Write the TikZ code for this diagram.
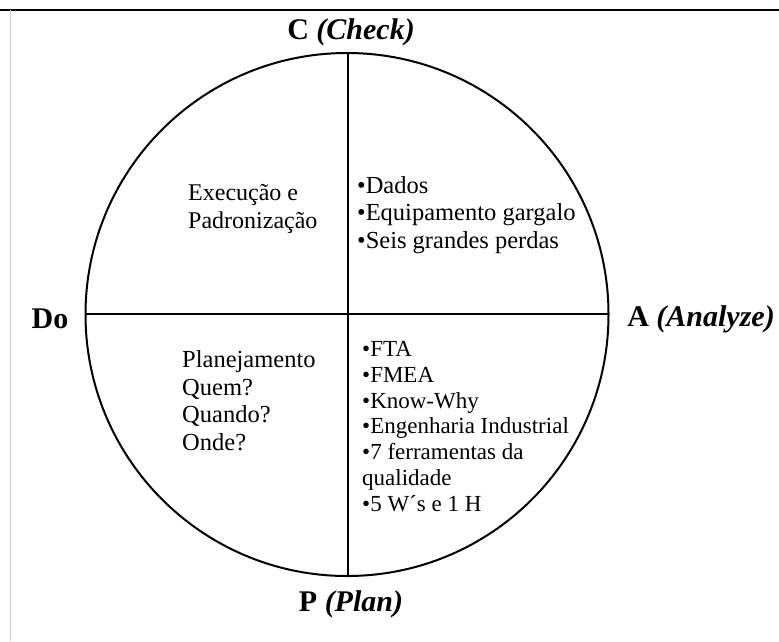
\documentclass[tikz,border=0pt]{standalone}
\usepackage{fontspec}
\setmainfont{Liberation Serif}
\begin{document}
\begin{tikzpicture}[x=1pt,y=-1pt,
  label/.style={font=\fontsize{30}{32}\selectfont\bfseries, inner sep=0pt},
  body/.style={font=\fontsize{24.5}{27.5}\selectfont, align=left, inner sep=0pt, anchor=west},
  small/.style={font=\fontsize{23}{25.8}\selectfont, align=left, inner sep=0pt, anchor=west}]
  \useasboundingbox (0,0) rectangle (779,641);
  % frame lines
  \draw[line width=1.5pt] (0,10) -- (779,10);
  \draw[line width=0.8pt, black!20] (10,10) -- (10,641);
  % cycle circle and quadrant axes
  \coordinate (O) at (347,314.5);
  \draw[line width=2pt] (O) circle [radius=261.5];
  \coordinate (top) at (348,53);
  \coordinate (bot) at (348,576);
  \coordinate (lft) at (85.5,314);
  \coordinate (rgt) at (608.5,314);
  \draw[line width=1.5pt] (top) -- (bot);
  \draw[line width=1.5pt] (lft) -- (rgt);
  % stage labels
  \node[label] (check) at (351,32) {C \itshape(Check)};
  \node[label] (do) at (50,319) {Do};
  \node[label] (act) at (701,319) {A \itshape(Analyze)};
  \node[label] (plan) at (351,604) {P \itshape(Plan)};
  % quadrant contents
  \node[body, font=\fontsize{24}{28.5}\selectfont] (exec) at (188,209) {Execução e\\Padronização};
  \node[body] (dados) at (357,215) {•Dados\\•Equipamento gargalo\\•Seis grandes perdas};
  \node[body] (planej) at (182,400.5) {Planejamento\\Quem?\\Quando?\\Onde?};
  \node[small] (tools) at (362,426.5) {•FTA\\•FMEA\\•Know-Why\\•Engenharia Industrial\\•7 ferramentas da\\qualidade\\•5 W´s e 1 H};
\end{tikzpicture}
\end{document}
